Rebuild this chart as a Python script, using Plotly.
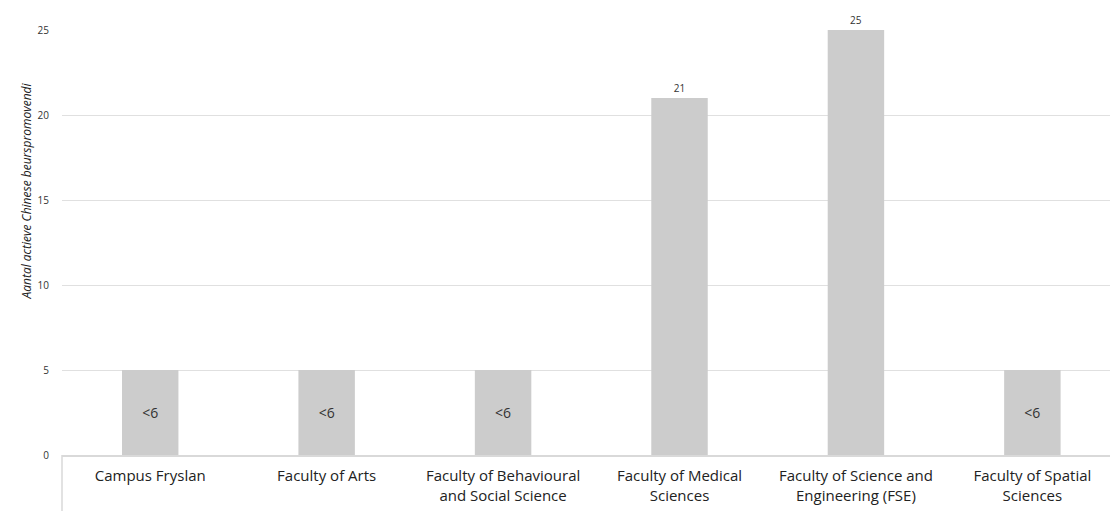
import plotly.graph_objects as go

categories = [
    "Campus Fryslan",
    "Faculty of Arts",
    "Faculty of Behavioural<br>and Social Science",
    "Faculty of Medical<br>Sciences",
    "Faculty of Science and<br>Engineering (FSE)",
    "Faculty of Spatial<br>Sciences",
]
values = [5, 5, 5, 21, 25, 5]
labels = ["<6", "<6", "<6", "21", "25", "<6"]
y_ticks = [0, 5, 10, 15, 20, 25]
y_title = "Aantal actieve Chinese beurspromovendi"

FONT = "Open Sans"
positions = ["inside" if l.startswith("<") else "outside" for l in labels]
sizes = [14 if l.startswith("<") else 10 for l in labels]

fig = go.Figure(
    go.Bar(
        x=categories,
        y=values,
        text=labels,
        textposition=positions,
        insidetextanchor="middle",
        textfont=dict(size=sizes, color="#333333", family=FONT),
        marker=dict(color="#cccccc", line=dict(width=0)),
        width=0.32,
        cliponaxis=False,
        hoverinfo="skip",
    )
)

fig.update_layout(
    width=1110,
    height=511,
    margin=dict(l=62, r=0, t=30, b=56),
    plot_bgcolor="white",
    paper_bgcolor="white",
    showlegend=False,
    font=dict(family=FONT, color="#333333"),
    xaxis=dict(
        type="category",
        range=[-0.5, 5.44],
        automargin=False,
        showgrid=False,
        showline=True,
        linecolor="#d9d9d9",
        linewidth=2,
        ticks="",
        ticklabelstandoff=6,
        tickfont=dict(size=15, color="#222222", family=FONT),
    ),
    yaxis=dict(
        range=[0, 25],
        tickvals=y_ticks,
        automargin=False,
        showgrid=True,
        gridcolor="#e0e0e0",
        gridwidth=1,
        zeroline=False,
        showline=False,
        ticks="",
        ticklabelstandoff=12,
        tickfont=dict(size=10, color="#333333", family=FONT),
    ),
    annotations=[
        dict(
            text="<i>" + y_title + "</i>",
            xref="paper",
            yref="paper",
            x=0,
            y=0.62,
            xshift=-36,
            xanchor="center",
            yanchor="middle",
            textangle=-90,
            showarrow=False,
            font=dict(size=12, color="#222222", family=FONT),
        )
    ],
    shapes=[
        dict(
            type="line",
            xref="paper",
            yref="paper",
            x0=0,
            x1=0,
            y0=0,
            y1=-0.2,
            line=dict(color="#d9d9d9", width=1.5),
        )
    ],
)

fig.write_html(
    "out.html",
    config={"displayModeBar": False},
    post_script="document.body.style.margin='0';document.body.style.overflow='hidden';",
)
